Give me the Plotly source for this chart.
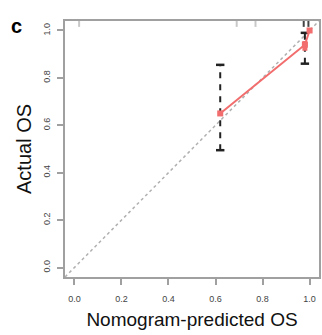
import plotly.graph_objects as go

# Calibration data
pred = [0.62, 0.98, 1.0]
actual = [0.65, 0.94, 1.0]
ci_low = [0.495, 0.86, 0.99]
ci_high = [0.855, 0.99, 1.0]
cluster_pts_x = [0.98, 0.98]
cluster_pts_y = [0.925, 0.945]
rug_x_light = [0.02, 0.69, 0.77]
rug_x_dark = [0.975, 0.995]
ticks = [0.0, 0.2, 0.4, 0.6, 0.8, 1.0]
tick_text = ["0.0", "0.2", "0.4", "0.6", "0.8", "1.0"]
diag = [-0.04, 1.04]

fig = go.Figure()

# reference diagonal
fig.add_trace(go.Scatter(x=diag, y=diag, mode="lines",
                         line=dict(color="#b0b0b0", width=1.5, dash="dot"),
                         hoverinfo="skip"))

# error bars
for i in range(2):
    fig.add_trace(go.Scatter(x=[pred[i], pred[i]], y=[ci_low[i], ci_high[i]], mode="lines",
                             line=dict(color="#222222", width=2, dash="6px,6px")))
    fig.add_trace(go.Scatter(x=[pred[i], pred[i]], y=[ci_low[i], ci_high[i]], mode="markers",
                             marker=dict(symbol="line-ew", size=6,
                                         line=dict(color="#222222", width=2.5))))

# calibration curve
fig.add_trace(go.Scatter(x=pred, y=actual, mode="lines+markers",
                         line=dict(color="#f26d6d", width=2),
                         marker=dict(symbol="square", size=6, color="#f26d6d")))
fig.add_trace(go.Scatter(x=cluster_pts_x, y=cluster_pts_y, mode="markers",
                         marker=dict(symbol="square", size=5, color="#f26d6d")))

# rug at top
fig.add_trace(go.Scatter(x=rug_x_light, y=[1.03] * len(rug_x_light), mode="markers",
                         marker=dict(symbol="line-ns", size=5, line=dict(color="#c8c8c8", width=2))))
fig.add_trace(go.Scatter(x=rug_x_dark, y=[1.03] * len(rug_x_dark), mode="markers",
                         marker=dict(symbol="line-ns", size=5, line=dict(color="#444444", width=2))))

axis_common = dict(range=[-0.04, 1.04], tickvals=ticks, ticktext=tick_text,
                   showgrid=False, zeroline=False, showline=True, mirror=True,
                   linecolor="#a0a0a0", linewidth=1.5, ticks="outside", ticklen=6,
                   tickcolor="#a0a0a0", tickwidth=1.5,
                   tickfont=dict(family="Liberation Sans, Arial", size=9, color="#444444"))

fig.update_layout(
    width=322, height=335,
    margin=dict(l=65, r=1, t=21, b=58),
    paper_bgcolor="white", plot_bgcolor="white",
    showlegend=False,
    xaxis=dict(**axis_common, ticklabelstandoff=6,
               title=dict(text="Nomogram-predicted OS", standoff=10,
                          font=dict(family="Liberation Sans, Arial", size=19, color="#111111"))),
    yaxis=dict(**axis_common, tickangle=-90, ticklabelstandoff=4,
               title=dict(text="Actual OS", standoff=5,
                          font=dict(family="Liberation Sans, Arial", size=20, color="#111111"))),
)
fig.add_annotation(text="<b>c</b>", xref="paper", yref="paper", x=-0.19, y=0.98,
                   xanchor="center", yanchor="middle", showarrow=False,
                   font=dict(family="Liberation Sans, Arial", size=20, color="black"))

fig.write_html("out.html", config={"displayModeBar": False},
               post_script="document.body.style.margin='0';document.body.style.overflow='hidden';")
